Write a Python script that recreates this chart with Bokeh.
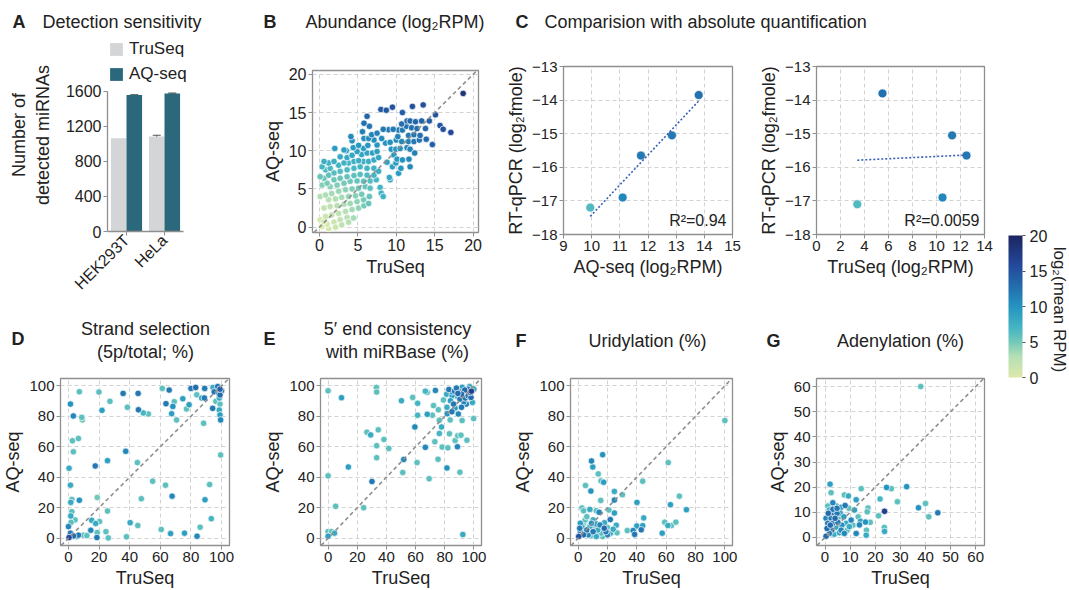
import numpy as np
from bokeh.plotting import figure
from bokeh.layouts import row, column
from bokeh.models import (Range1d, ColumnDataSource, LinearColorMapper, ColorBar,
                          Label, Slope, Legend, LegendItem, Whisker, TeeHead,
                          FixedTicker, CustomJSTickFormatter)
from bokeh.embed import file_html
from bokeh.resources import INLINE

FONT = "Liberation Sans"
TXT = "#222222"
GREY = "#8f8f8f"
GRIDC = "#d2d2d2"

# ---------------- data ----------------
# A: detection sensitivity
cell_lines = ["HEK293T", "HeLa"]
truseq_detected = [1065, 1085]
truseq_sd = [0, 14]
aqseq_detected = [1558, 1575]
aqseq_sd = [4, 7]

# B: abundance (log2 RPM)
abund_truseq = [18.7, 8.0, 8.7, 9.5, 12.1, 13.5, 15.1, 6.2, 10.8, 15.7,
                16.1, 17.1, 13.9, 14.7, 11.4, 11.8, 12.5, 13.3, 14.3, 10.7,
                11.3, 12.0, 12.7, 13.8, 10.3, 10.8, 9.6, 9.0, 8.3, 7.5,
                6.8, 5.8, 5.6, 6.5, 4.1, 5.8, 6.4, 7.1, 8.1, 10.2,
                11.6, 12.3, 13.1, 13.0, 12.3, 11.6, 10.7, 10.0, 9.2, 8.6,
                7.5, 6.3, 5.1, 4.4, 4.25, 2.0, 3.2, 3.5, 9.35, 9.95,
                10.5, 11.4, 12.4, 11.8, 9.7, 10.1, 10.8, 11.65, 9.95, 10.6,
                11.8, 10.3, 9.5, 8.8, 9.2, 9.1, 7.9, 8.05, 8.3, 7.4,
                6.6, 6.5, 6.4, 5.8, 4.45, 0.6, 0.1, 1.2, 1.9, 2.7,
                3.6, 4.25, 4.9, 5.5, 5.75, 6.2, 6.9, 7.5, 7.7, 7.1,
                6.4, 5.75, 5.1, 4.5, 3.8, 3.2, 2.5, 1.4, 0.8, 0.35,
                0.6, 1.2, 1.9, 2.7, 3.6, 4.5, 5.3, 6.2, 7.1, 7.7,
                7.1, 6.2, 5.3, 4.5, 3.6, 2.7, 1.9, 1.0, 0.35, 1.4,
                2.3, 3.2, 4.0, 4.9, 5.75, 6.6, 5.97, 5.1, 4.25, 3.4,
                2.5, 1.6, 0.8, 0.1, 1.2, 2.1, 2.9, 3.8, 4.7, 5.5,
                5.75, 4.9, 4.0, 3.2, 2.3, 1.4, 0.6, 5.1, 4.25, 3.4,
                2.5, 1.6, 0.8, 0.1, 3.6, 2.7, 1.9, 1.0, 0.35, 2.9,
                3.8, 2.1, 1.2, 0.6]
abund_aqseq = [17.5, 15.4, 15.3, 15.7, 15.8, 16.0, 14.7, 14.5, 15.0, 13.3,
               12.8, 12.4, 11.5, 10.8, 13.9, 13.9, 13.8, 13.9, 13.9, 13.5,
               13.2, 13.0, 12.9, 12.9, 12.7, 12.7, 12.8, 12.75, 12.8, 12.3,
               12.1, 13.6, 12.5, 13.2, 11.85, 11.6, 11.6, 11.4, 11.6, 11.85,
               12.0, 12.1, 12.0, 11.4, 11.2, 11.2, 11.2, 11.4, 11.1, 11.0,
               10.75, 10.7, 10.7, 10.4, 11.3, 10.3, 10.1, 10.0, 10.2, 10.2,
               10.3, 10.4, 9.7, 10.2, 9.45, 8.9, 8.8, 8.9, 8.4, 7.7,
               7.9, 7.05, 7.9, 8.5, 6.2, 6.5, 5.2, 4.45, 4.0, 6.2,
               5.1, 4.0, 3.1, 2.8, 1.2, 8.6, 6.6, 8.4, 8.6, 9.2,
               9.1, 9.4, 9.9, 9.5, 10.3, 9.7, 9.7, 9.9, 9.1, 8.8,
               8.6, 8.6, 8.7, 8.6, 8.4, 8.4, 8.1, 7.7, 7.5, 7.9,
               6.4, 6.8, 7.1, 7.3, 7.5, 7.7, 7.9, 7.7, 7.7, 7.3,
               6.8, 6.8, 6.9, 6.75, 6.6, 6.4, 6.2, 5.75, 5.5, 5.3,
               5.5, 5.75, 6.0, 6.05, 6.0, 6.05, 5.3, 5.1, 5.0, 4.9,
               4.7, 4.4, 4.2, 4.0, 3.6, 3.7, 3.9, 4.0, 4.1, 4.3,
               3.6, 3.35, 3.1, 3.0, 2.8, 2.7, 2.5, 2.5, 2.3, 2.05,
               1.8, 1.6, 1.4, 0.96, 1.26, 0.96, 0.65, 0.4, 0.1, 0.3,
               0.65, 0.0, -0.2, 0.74]
abund_mean = [18.0, 14.5, 14.5, 15.0, 15.0, 15.2, 14.9, 13.5, 14.2, 14.8,
              15.0, 16.0, 13.2, 13.8, 13.2, 13.3, 13.3, 13.6, 14.1, 12.7,
              12.5, 12.6, 12.8, 13.4, 11.9, 12.0, 11.9, 11.8, 11.8, 11.3,
              11.1, 12.6, 11.5, 12.2, 10.9, 10.6, 10.6, 10.5, 10.7, 11.2,
              11.8, 12.2, 12.6, 12.3, 11.8, 11.4, 11.0, 10.8, 10.3, 10.1,
              9.8, 9.7, 9.7, 9.4, 10.3, 9.3, 9.1, 9.0, 9.8, 10.1,
              10.4, 10.9, 11.5, 11.1, 9.6, 9.6, 10.0, 10.8, 9.3, 9.7,
              10.9, 9.4, 8.9, 8.7, 8.3, 8.3, 7.1, 7.1, 7.3, 6.9,
              6.0, 5.7, 5.5, 4.9, 3.5, 7.6, 5.6, 7.4, 7.6, 8.2,
              8.1, 8.4, 8.9, 8.6, 9.3, 8.8, 8.9, 9.1, 8.5, 8.1,
              7.8, 7.7, 7.8, 7.6, 7.4, 7.4, 7.1, 6.7, 6.5, 6.9,
              5.4, 5.8, 6.1, 6.3, 6.6, 6.8, 7.0, 7.1, 7.4, 7.5,
              7.0, 6.5, 6.2, 5.9, 5.7, 5.4, 5.2, 4.8, 4.5, 4.4,
              4.6, 4.9, 5.2, 5.5, 5.9, 6.3, 5.6, 5.1, 4.6, 4.2,
              3.8, 3.5, 3.2, 3.0, 2.7, 3.0, 3.4, 3.9, 4.4, 5.0,
              4.9, 4.2, 3.6, 3.1, 2.6, 2.1, 1.8, 4.1, 3.5, 2.8,
              2.2, 1.6, 1.1, 0.6, 2.7, 2.0, 1.3, 0.7, 0.2, 2.1,
              2.8, 1.3, 0.6, 0.7]

# C: comparison with absolute quantification
qpcr_aqseq_rpm = [9.95, 11.1, 11.75, 12.85, 13.8]
qpcr_aqseq_fmole = [-17.2, -16.9, -15.65, -15.05, -13.85]
qpcr_aqseq_mean = [6.5, 11.0, 12.0, 12.0, 12.5]
qpcr_truseq_rpm = [3.4, 5.5, 10.5, 11.3, 12.5]
qpcr_truseq_fmole = [-17.1, -13.8, -16.9, -15.05, -15.65]
qpcr_truseq_mean = [6.5, 12.5, 11.0, 12.0, 12.0]
r2_labels = ["R\u00b2=0.94", "R\u00b2=0.0059"]

# D: strand selection (5p/total; %)
strand_truseq = [7.1, 19.9, 35.7, 45.5, 27.1, 1.3, 21.9, 38.5, 45.7, 48.9,
                 52.2, 3.2, 8.7, 9.1, 2.6, 6.5, 3.2, 37.4, 0.4, 17.5,
                 25.5, 45.0, 55.0, 1.3, 63.4, 92.2, 67.7, 47.6, 89.2, 18.8,
                 2.2, 1.5, 7.1, 25.5, 2.2, 1.5, 93.3, 15.2, 4.3, 20.3,
                 40.3, 17.8, 1.7, 45.3, 86.0, 14.6, 24.5, 60.6, 66.7, 75.8,
                 84.0, 18.6, 18.8, 26.0, 37.9, 6.5, 9.7, 0.4, 1.3, 3.3,
                 0.0, 5.4, 12.0, 61.3, 65.8, 80.0, 83.1, 89.0, 94.4, 99.0,
                 95.2, 98.3, 83.8, 88.8, 87.0, 98.5, 96.3, 99.0, 63.7, 69.1,
                 68.2, 74.7, 78.8, 77.1, 67.4, 70.6, 94.2, 98.5, 99.0, 99.4,
                 88.3, 99.4, 100.0, 99.0, 97.5]
strand_aqseq = [96.1, 95.9, 95.0, 95.0, 89.8, 88.0, 83.9, 85.9, 84.3, 82.2,
                81.5, 80.2, 79.3, 77.6, 63.9, 65.4, 56.7, 57.0, 45.9, 47.4,
                50.9, 49.6, 37.4, 34.8, 34.8, 35.2, 27.6, 25.9, 25.2, 26.7,
                25.4, 23.5, 24.9, 17.8, 17.4, 14.6, 12.8, 11.7, 12.0, 10.9,
                10.2, 9.6, 10.4, 8.3, 7.2, 5.2, 4.3, 5.7, 3.0, 3.3,
                1.3, 0.4, 3.7, 0.2, 0.9, 2.0, 2.0, 0.4, 3.3, 1.5,
                7.6, 1.1, 1.7, 98.3, 97.2, 98.3, 98.9, 98.3, 98.9, 97.8,
                96.1, 95.0, 94.1, 92.0, 92.0, 92.0, 89.8, 88.0, 88.3, 89.6,
                86.5, 91.5, 87.6, 84.8, 81.7, 77.6, 85.2, 84.1, 80.9, 77.6,
                75.4, 54.6, 96.7, 94.0, 99.5]
strand_mean = [6, 6, 12, 12, 6, 10, 9, 6, 12, 7,
               6, 11, 6, 5, 6, 6, 6, 11, 8, 12,
               9, 6, 6, 8, 6, 6, 11, 6, 9, 5,
               6, 8, 10, 6, 6, 8, 7, 8, 6, 6,
               8, 8, 6, 6, 6, 11, 6, 6, 9, 9,
               11, 12, 6, 6, 6, 12, 6, 16, 12, 13,
               11, 8, 6, 6, 12, 12, 13, 12, 8, 14,
               12, 12, 6, 12, 8, 8, 6, 6, 12, 6,
               10, 9, 9, 6, 9, 6, 12, 8, 9, 11,
               6, 6, 12, 13, 12]

# E: 5' end consistency with miRBase (%)
end5_truseq = [0.0, 9.2, 33.1, 33.3, 50.3, 58.0, 61.4, 66.7, 73.6, 68.0,
               61.4, 68.0, 71.5, 72.3, 75.6, 26.6, 29.2, 34.4, 38.3, 33.3,
               41.6, 59.5, 33.3, 51.9, 66.7, 61.0, 13.9, 0.0, 51.2, 69.3,
               75.4, 81.5, 90.4, 30.1, 5.2, 24.4, 0.0, 2.4, 4.4, 0.0,
               92.4, 76.3, 77.8, 76.3, 73.2, 78.2, 82.1, 83.2, 87.1, 88.7,
               88.9, 91.1, 95.2, 99.8, 91.9, 89.3, 84.9, 83.7, 82.8, 86.7,
               90.4, 93.7, 97.6, 98.3, 95.9, 100.0, 85.0, 88.7, 90.4, 94.1,
               98.0, 99.0, 94.8, 91.5, 87.1, 81.5, 83.9, 81.3, 79.1, 81.7,
               91.5, 97.0, 85.0, 88.0, 92.0, 96.0, 93.0, 86.0, 89.0]
end5_aqseq = [96.7, 92.2, 98.9, 95.9, 90.2, 92.4, 88.5, 96.5, 97.0, 95.7,
              80.7, 81.3, 80.7, 87.0, 84.3, 69.6, 67.8, 71.1, 64.8, 60.7,
              58.9, 73.0, 52.8, 51.7, 59.6, 49.6, 46.7, 40.9, 43.1, 39.0,
              51.8, 46.1, 43.3, 37.2, 20.9, 20.0, 4.3, 4.3, 3.3, 1.3,
              2.4, 77.4, 73.0, 68.7, 63.3, 59.8, 59.3, 68.5, 64.1, 60.0,
              67.2, 67.6, 64.3, 78.5, 77.2, 81.5, 83.0, 77.6, 97.6, 96.5,
              96.0, 97.2, 95.6, 96.5, 97.8, 97.8, 93.5, 93.0, 91.3, 92.0,
              92.4, 89.1, 88.0, 85.9, 85.4, 85.9, 90.2, 94.5, 90.7, 81.7,
              94.5, 99.5, 96.0, 98.5, 99.0, 93.5, 89.5, 88.0, 95.0]
end5_mean = [6, 9, 6, 6, 8, 6, 7, 7, 11, 6,
             7, 9, 6, 6, 6, 6, 8, 6, 6, 6,
             6, 11, 6, 11, 11, 6, 9, 6, 6, 6,
             6, 10, 6, 12, 6, 6, 6, 6, 8, 9,
             8, 6, 8, 7, 6, 6, 6, 6, 6, 11,
             6, 6, 6, 6, 6, 11, 12, 6, 12, 12,
             10, 13, 14, 17, 12, 8, 9, 8, 12, 12,
             13, 8, 11, 12, 9, 8, 9, 8, 6, 10,
             13, 8, 10, 12, 9, 12, 11, 12, 13]

# F: uridylation (%)
urid_truseq = [100.0, 9.1, 10.0, 16.7, 13.7, 15.6, 17.4, 61.4, 44.0, 5.0,
               8.7, 24.7, 30.2, 69.0, 24.7, 15.4, 40.1, 62.9, 73.8, 2.6,
               3.7, 8.0, 12.4, 24.7, 14.3, 21.0, 44.7, 21.9, 59.0, 61.2,
               63.6, 66.6, 37.5, 38.5, 40.0, 43.0, 44.0, 33.5, 57.3, 26.0,
               26.5, 16.7, 8.7, 12.4, 18.0, 0.4, 1.5, 2.6, 3.7, 5.9,
               6.9, 8.0, 10.2, 11.3, 13.4, 14.9, 15.6, 18.9, 20.0, 22.1,
               23.9, 4.8, 5.9, 1.5, 10.2, 3.7, 1.1, 9.1, 17.8, 20.0,
               12.4]
urid_aqseq = [77.2, 50.7, 46.7, 54.8, 42.2, 37.6, 36.7, 49.6, 37.4, 34.6,
              30.9, 30.7, 28.5, 27.6, 25.0, 24.8, 23.5, 22.0, 18.7, 19.8,
              18.0, 18.9, 18.0, 16.5, 17.0, 18.5, 13.3, 12.2, 10.5, 8.3,
              8.3, 10.5, 5.0, 2.5, 8.0, 5.5, 8.2, 5.0, 3.3, 8.5,
              3.5, 1.1, 1.5, 9.3, 10.2, 1.1, 4.3, 7.6, 9.8, 5.4,
              2.2, 7.6, 4.3, 7.2, 5.4, 8.7, 3.3, 4.3, 7.0, 3.3,
              5.9, 12.0, 14.1, 9.8, 12.0, 2.2, 6.5, 9.8, 6.5, 2.2,
              1.1]
urid_mean = [6, 11, 9, 10, 6, 6, 9, 6, 6, 6,
             10, 8, 6, 6, 11, 6, 9, 9, 9, 6,
             6, 8, 6, 9, 11, 6, 8, 12, 6, 8,
             6, 6, 11, 12, 9, 12, 9, 6, 9, 8,
             6, 6, 6, 9, 8, 15, 12, 8, 6, 12,
             11, 8, 12, 6, 8, 11, 6, 12, 6, 8,
             8, 6, 6, 9, 8, 13, 12, 10, 13, 11,
             8]

# G: adenylation (%)
aden_truseq = [38.1, 2.0, 2.4, 14.4, 24.5, 26.4, 32.5, 7.7, 9.3, 21.9,
               12.4, 28.8, 40.0, 37.2, 23.7, 44.9, 17.1, 16.8, 21.3, 41.3,
               13.2, 14.1, 16.1, 13.7, 18.0, 12.4, 16.4, 16.5, 23.6, 23.7,
               8.0, 6.4, 9.5, 11.7, 8.4, 8.8, 1.1, 3.1, 1.7, 1.3,
               3.5, 4.8, 6.1, 0.4, 2.4, 4.0, 5.7, 7.5, 1.1, 3.1,
               5.1, 6.7, 0.8, 2.7, 4.4, 6.4, 1.7, 3.7, 5.7, 7.7,
               0.4, 3.1, 4.8, 2.1, 9.7, 11.1, 10.4, 4.5]
aden_aqseq = [60.0, 21.2, 17.8, 19.4, 19.9, 19.4, 20.2, 16.9, 16.5, 15.3,
              15.0, 14.2, 13.5, 11.8, 10.4, 9.8, 11.7, 10.2, 8.6, 8.2,
              8.2, 6.4, 6.1, 5.0, 6.0, 1.6, 0.9, 2.9, 4.0, 2.4,
              12.7, 12.0, 11.6, 10.9, 5.6, 2.9, 12.5, 13.8, 10.9, 9.6,
              9.6, 9.6, 9.6, 7.6, 7.6, 7.6, 8.2, 8.2, 5.6, 5.6,
              6.0, 4.9, 3.6, 2.9, 4.0, 2.9, 1.6, 1.3, 1.9, 1.6,
              0.5, 11.2, 11.6, 4.9, 4.3, 4.9, 6.9, 12.5]
aden_mean = [6, 9, 6, 6, 10, 6, 10, 6, 8, 7,
             9, 6, 6, 10, 17, 12, 6, 6, 6, 6,
             6, 9, 10, 11, 6, 11, 8, 6, 6, 8,
             12, 9, 6, 9, 8, 6, 6, 11, 8, 13,
             12, 12, 9, 11, 12, 13, 6, 9, 12, 12,
             12, 10, 13, 12, 8, 11, 12, 8, 8, 11,
             13, 12, 12, 13, 8, 6, 11, 8]

# ---------------- colour scale ----------------
cmap_stops = [0, 3, 5, 7, 10, 13, 16, 20]
cmap_colors = ["#dde9ab", "#b3dfb5", "#74c8b8", "#45b5c4", "#2594c0", "#236bab", "#24479a", "#1c2660"]
_rgb = np.array([[int(h[i:i + 2], 16) for i in (1, 3, 5)] for h in cmap_colors], dtype=float)
_t = np.linspace(0, 20, 256)
palette = ["#%02x%02x%02x" % tuple(int(round(np.interp(v, cmap_stops, _rgb[:, k]))) for k in range(3)) for v in _t]
mapper = LinearColorMapper(palette=palette, low=0, high=20)

minus_fmt = CustomJSTickFormatter(code="return tick < 0 ? '\\u2212' + Math.abs(tick) : '' + tick;")


def make_fig(W, H, L, R, T, B, xr, yr):
    p = figure(width=W, height=H, x_range=xr, y_range=yr, toolbar_location=None,
               output_backend="svg", min_border_left=L, min_border_right=R,
               min_border_top=T, min_border_bottom=B)
    p.background_fill_color = "white"
    p.border_fill_color = "white"
    return p


def style_axes(p, tick_size="15px", label_size="18px"):
    for ax in p.axis:
        ax.axis_line_color = None
        ax.major_tick_line_color = GREY
        ax.major_tick_out = 4
        ax.major_tick_in = 0
        ax.minor_tick_line_color = None
        ax.major_label_text_font = FONT
        ax.major_label_text_font_size = tick_size
        ax.major_label_text_color = TXT
        ax.major_label_standoff = 2
        ax.axis_label_text_font = FONT
        ax.axis_label_text_font_size = label_size
        ax.axis_label_text_font_style = "normal"
        ax.axis_label_text_color = TXT
        ax.axis_label_standoff = 3


def add_text(p, x, y, text, size="18px", bold=False, align="left", baseline="middle", angle=0.0,
             units="screen"):
    p.add_layout(Label(x=x, y=y, x_units=units, y_units=units, text=text,
                       text_font=FONT, text_font_size=size,
                       text_font_style="bold" if bold else "normal",
                       text_align=align, text_baseline=baseline, text_color=TXT, angle=angle))


def text_strip(W, H):
    p = figure(width=W, height=H, x_range=Range1d(0, W), y_range=Range1d(0, H), toolbar_location=None,
               output_backend="svg", min_border_left=0, min_border_right=0, min_border_top=0,
               min_border_bottom=0, x_axis_location=None, y_axis_location=None)
    p.outline_line_color = None
    p.grid.grid_line_color = None
    return p


def scatter_panel(W, H, L, R, T, B, xr, yr, ticks_x, ticks_y, xs, ys, cs, size,
                  xlabel, ylabel, diag=True, tick_size="15px"):
    p = make_fig(W, H, L, R, T, B, Range1d(*xr), Range1d(*yr))
    order = np.argsort(cs, kind="stable")
    src = ColumnDataSource(dict(x=[xs[i] for i in order], y=[ys[i] for i in order],
                                c=[cs[i] for i in order]))
    p.scatter("x", "y", source=src, size=size, fill_color={"field": "c", "transform": mapper},
              line_color="white", line_width=0.7)
    if diag:
        p.add_layout(Slope(gradient=1, y_intercept=0, line_color=GREY, line_dash="4 3", line_width=1.6))
    p.xaxis.ticker = FixedTicker(ticks=ticks_x)
    p.yaxis.ticker = FixedTicker(ticks=ticks_y)
    p.xaxis.formatter = minus_fmt
    p.yaxis.formatter = minus_fmt
    p.xaxis.axis_label = xlabel
    p.yaxis.axis_label = ylabel
    p.outline_line_color = GREY
    p.outline_line_width = 1.3
    p.grid.grid_line_color = GRIDC
    p.grid.grid_line_dash = "4 3"
    p.grid.grid_line_width = 1
    style_axes(p, tick_size=tick_size)
    return p


# ---------------- Panel A (its figure is taller than the others in the row) ----------------
A_frame_h = 197
A_bottom = 66
A_height = 2 + A_frame_h + A_bottom

# ---------------- header strips (titles) ----------------
TOP_H = 36
hdr_top = text_strip(1000, TOP_H)
for x, txt, bold in ((12, "A", True), (42, "Detection sensitivity", False),
                     (263, "B", True), (305, "Abundance (log\u2082RPM)", False),
                     (515, "C", True), (544, "Comparision with absolute quantification", False)):
    add_text(hdr_top, x, TOP_H - 21, txt, bold=bold, units="data")

BOT_Y0 = TOP_H + A_height
BOT_H = 365 - BOT_Y0
hdr_bot = text_strip(1000, BOT_H)
for x, y, txt, bold, align in ((11, 338, "D", True, "left"),
                               (145, 328, "Strand selection", False, "center"),
                               (145, 351, "(5p/total; %)", False, "center"),
                               (263, 338, "E", True, "left"),
                               (397, 328, "5\u2032 end consistency", False, "center"),
                               (397, 351, "with miRBase (%)", False, "center"),
                               (515, 340, "F", True, "left"),
                               (647, 340, "Uridylation (%)", False, "center"),
                               (766, 340, "G", True, "left"),
                               (900, 340, "Adenylation (%)", False, "center")):
    add_text(hdr_bot, x, BOT_Y0 + BOT_H - y, txt, bold=bold, align=align, units="data")

A_top = 1600 * A_frame_h / 143.0
A_px_per_cat = 38.0
A_frame_w = 141
cell_pos = list(range(len(cell_lines)))
pA = make_fig(250, A_height, 107, 2, 2, A_bottom,
              Range1d(-0.5, -0.5 + A_frame_w / A_px_per_cat), Range1d(0, A_top))
srcA = ColumnDataSource(dict(xt=[v - 0.205 for v in cell_pos], xq=[v + 0.205 for v in cell_pos],
                             tru=truseq_detected, aq=aqseq_detected))
rT = pA.vbar(x="xt", top="tru", width=0.41, source=srcA, fill_color="#d4d5d7", line_color=None)
rQ = pA.vbar(x="xq", top="aq", width=0.41, source=srcA, fill_color="#2c687c", line_color=None)
tru_idx = [i for i in cell_pos if truseq_sd[i] > 0]
srcWT = ColumnDataSource(dict(x=[cell_pos[i] - 0.205 for i in tru_idx],
                              lo=[truseq_detected[i] - truseq_sd[i] for i in tru_idx],
                              hi=[truseq_detected[i] + truseq_sd[i] for i in tru_idx]))
srcWQ = ColumnDataSource(dict(x=[v + 0.205 for v in cell_pos],
                              lo=[a - s for a, s in zip(aqseq_detected, aqseq_sd)],
                              hi=[a + s for a, s in zip(aqseq_detected, aqseq_sd)]))
for srcW in (srcWT, srcWQ):
    pA.add_layout(Whisker(source=srcW, base="x", upper="hi", lower="lo",
                          line_color="#555555", line_width=1.2,
                          upper_head=TeeHead(size=8, line_color="#555555", line_width=1.2),
                          lower_head=TeeHead(size=8, line_color="#555555", line_width=1.2)))
legA = Legend(items=[LegendItem(label="TruSeq", renderers=[rT]), LegendItem(label="AQ-seq", renderers=[rQ])],
              location=(1, 147), glyph_width=16, glyph_height=16, label_height=16, spacing=5,
              padding=0, margin=0, label_standoff=5, border_line_color=None, background_fill_alpha=0,
              label_text_font=FONT, label_text_font_size="17px", label_text_color=TXT)
pA.add_layout(legA)
pA.yaxis.ticker = FixedTicker(ticks=[0, 400, 800, 1200, 1600])
pA.yaxis.bounds = (0, 1600)
pA.xaxis.ticker = FixedTicker(ticks=cell_pos)
pA.xaxis.bounds = (-0.5, len(cell_lines) - 0.5)
pA.xaxis.major_label_overrides = {i: name for i, name in zip(cell_pos, cell_lines)}
pA.yaxis.axis_label = "Number of\ndetected miRNAs"
pA.outline_line_color = None
pA.grid.grid_line_color = None
style_axes(pA, tick_size="16px")
for ax in pA.axis:
    ax.axis_line_color = GREY
    ax.axis_line_width = 1.3
pA.yaxis.axis_label_standoff = 10
pA.xaxis.major_label_orientation = np.pi / 4
pA.xaxis.major_label_text_font_size = "16px"

# ---------------- Panel B ----------------
pB = scatter_panel(250, 254, 62, 22, 34, 58, (-0.9, 20.7), (-0.7, 20.5), [0, 5, 10, 15, 20],
                   [0, 5, 10, 15, 20], abund_truseq, abund_aqseq, abund_mean, 6.5, "TruSeq", "AQ-seq",
                   tick_size="16px")


# ---------------- Panel C ----------------
def qpcr_panel(W, L, R, xr, ticks_x, xs, ys, cs, xlabel, r2):
    p = scatter_panel(W, 254, L, R, 30, 56, xr, (-18, -13), ticks_x, [-18, -17, -16, -15, -14, -13],
                      xs, ys, cs, 9, xlabel, "RT-qPCR (log\u2082fmole)", diag=False)
    k, b = np.polyfit(xs, ys, 1)
    fx = [min(xs), max(xs)]
    p.line(fx, [k * v + b for v in fx], line_color="#3a5fb8", line_dash="2 2", line_width=1.6)
    add_text(p, 163, 6, r2, size="16px", align="right", baseline="bottom")
    return p


pC1 = qpcr_panel(252, 63, 20, (9, 15), [9, 10, 11, 12, 13, 14, 15], qpcr_aqseq_rpm, qpcr_aqseq_fmole,
                 qpcr_aqseq_mean, "AQ-seq (log\u2082RPM)", r2_labels[0])
pC2 = qpcr_panel(248, 64, 16, (0, 14), [0, 2, 4, 6, 8, 10, 12, 14], qpcr_truseq_rpm, qpcr_truseq_fmole,
                 qpcr_truseq_mean, "TruSeq (log\u2082RPM)", r2_labels[1])

# ---------------- bottom row ----------------
pct_ticks = [0, 20, 40, 60, 80, 100]
pD = scatter_panel(260, 225, 60, 31, 13, 45, (-5.2, 105.2), (-4.8, 104.8), pct_ticks, pct_ticks,
                   strand_truseq, strand_aqseq, strand_mean, 6.5, "TruSeq", "AQ-seq")
pE = scatter_panel(250, 225, 52, 29, 13, 45, (-5.2, 105.2), (-4.8, 104.8), pct_ticks, pct_ticks,
                   end5_truseq, end5_aqseq, end5_mean, 6.5, "TruSeq", "AQ-seq")
pF = scatter_panel(250, 225, 53, 28, 13, 45, (-5.2, 105.2), (-4.8, 104.8), pct_ticks, pct_ticks,
                   urid_truseq, urid_aqseq, urid_mean, 6.5, "TruSeq", "AQ-seq")
g_ticks = [0, 10, 20, 30, 40, 50, 60]
pG = scatter_panel(240, 225, 56, 16, 13, 45, (-3.4, 63.5), (-3.2, 63.2), g_ticks, g_ticks,
                   aden_truseq, aden_aqseq, aden_mean, 6.5, "TruSeq", "AQ-seq")

# ---------------- colour bar ----------------
pCB = text_strip(69, 590)
cb = ColorBar(color_mapper=mapper, location=(8, 213), width=14, height=142, padding=0,
              ticker=FixedTicker(ticks=[0, 5, 10, 15, 20]), major_tick_line_color="#555555",
              major_tick_out=3, major_tick_in=0, label_standoff=4, bar_line_color=None,
              border_line_color=None, background_fill_alpha=0,
              major_label_text_font=FONT, major_label_text_font_size="16px",
              major_label_text_color=TXT)
pCB.add_layout(cb)
add_text(pCB, 59, 281, "log\u2082(mean RPM)", size="17px", align="center", angle=-np.pi / 2)

# each plot is wrapped on its own so that Bokeh does not align their frames
w = lambda p: column(p)
top = row(w(pA), w(pB), w(pC1), w(pC2))
bottom = row(w(pD), w(pE), w(pF), w(pG))
layout = row(column(w(hdr_top), top, w(hdr_bot), bottom), w(pCB))

open("out.html", "w").write(file_html(layout, INLINE))
